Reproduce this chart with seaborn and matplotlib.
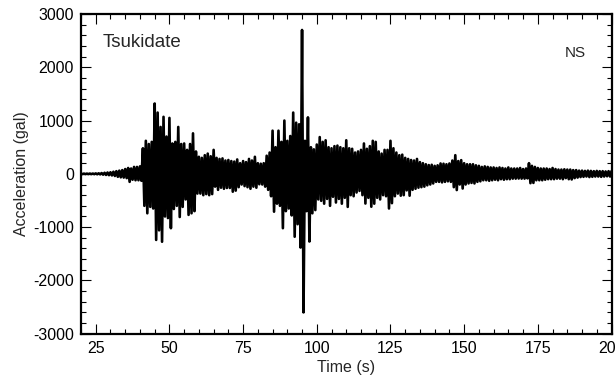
import numpy as np
import pandas as pd
import seaborn as sns
import matplotlib.pyplot as plt
from matplotlib.ticker import MultipleLocator

# peak accelerations (gal), one pair per second from t = 20 s to 200 s
t_start = 20
peak_pos = [5, 5, 5, 6, 6, 8, 10, 15, 20, 25,
            30, 40, 50, 60, 70, 90, 110, 100, 130, 130,
            140, 480, 620, 560, 600, 1320, 1150, 880, 1070, 700,
            1050, 570, 600, 880, 560, 570, 450, 560, 760, 420,
            320, 300, 350, 380, 330, 450, 300, 280, 290, 250,
            260, 240, 230, 270, 200, 240, 220, 280, 250, 320,
            200, 190, 200, 340, 400, 810, 500, 810, 600, 1000,
            620, 710, 1150, 960, 930, 2700, 620, 1060, 500, 460,
            550, 690, 600, 630, 500, 480, 520, 530, 500, 480,
            630, 480, 470, 400, 420, 450, 570, 470, 520, 620,
            600, 420, 380, 450, 450, 620, 480, 400, 350, 360,
            300, 280, 260, 250, 280, 220, 200, 180, 165, 170,
            150, 160, 195, 190, 180, 195, 250, 350, 240, 257,
            200, 180, 180, 180, 160, 150, 130, 140, 130, 120,
            120, 110, 120, 110, 100, 120, 100, 100, 100, 110,
            90, 100, 200, 150, 130, 110, 100, 100, 100, 90,
            110, 90, 80, 80, 85, 80, 80, 70, 70, 60,
            60, 55, 60, 55, 50, 55, 50, 50, 45, 50, 50]
peak_neg = [-5, -5, -5, -6, -6, -8, -10, -15, -20, -25,
            -30, -40, -55, -65, -70, -80, -150, -110, -120, -120,
            -130, -600, -740, -620, -650, -1240, -1060, -1274, -800, -830,
            -1020, -660, -600, -810, -620, -480, -770, -740, -700, -370,
            -370, -400, -380, -400, -380, -240, -300, -260, -280, -265,
            -265, -335, -315, -250, -200, -230, -250, -280, -240, -260,
            -195, -200, -240, -300, -420, -710, -560, -600, -1020, -700,
            -650, -780, -1180, -945, -1383, -2600, -700, -1270, -740, -680,
            -480, -506, -560, -470, -600, -430, -538, -470, -560, -450,
            -620, -400, -420, -350, -320, -400, -557, -450, -617, -560,
            -450, -480, -400, -420, -650, -550, -420, -370, -410, -400,
            -310, -410, -300, -280, -260, -250, -240, -215, -200, -180,
            -150, -150, -160, -150, -140, -150, -250, -304, -200, -275,
            -200, -180, -170, -180, -150, -140, -120, -120, -130, -120,
            -110, -120, -100, -110, -100, -100, -90, -90, -88, -90,
            -90, -85, -175, -170, -120, -120, -120, -110, -100, -100,
            -100, -90, -90, -100, -80, -100, -105, -80, -70, -60,
            -56, -50, -60, -55, -50, -50, -56, -50, -45, -50, -50]

station = "Tsukidate"
component = "NS"
x_ticks = [25, 50, 75, 100, 125, 150, 175, 200]
y_ticks = [-3000, -2000, -1000, 0, 1000, 2000, 3000]

# trace goes up to the positive peak, then down to the negative one, each second
secs = np.arange(t_start, t_start + len(peak_pos))
time = np.column_stack([secs, secs + 0.5]).ravel()
acc = np.column_stack([peak_pos, peak_neg]).ravel()
record = pd.DataFrame({"time": time, "acc": acc})

sns.set_style("ticks")
plt.rcParams['font.family'] = ['Liberation Sans', 'DejaVu Sans']
plt.rcParams['axes.unicode_minus'] = False

fig = plt.figure(figsize=(6.16, 3.81), dpi=100)
ax = fig.add_axes([0.1315, 0.1241, 0.8612, 0.8392])

sns.lineplot(data=record, x="time", y="acc", sort=False, estimator=None,
             color="black", linewidth=1.9, ax=ax)

ax.set_xlim(20, 200)
ax.set_ylim(-3000, 3000)
ax.set_xticks(x_ticks)
ax.set_yticks(y_ticks)
ax.xaxis.set_minor_locator(MultipleLocator(5))
ax.yaxis.set_minor_locator(MultipleLocator(200))
ax.tick_params(which='both', direction='in', top=True, right=True,
               width=0.8, colors='black', labelsize=11.5, pad=5)
ax.tick_params(which='major', length=7.5)
ax.tick_params(which='minor', length=3.6)
for s in ax.spines.values():
    s.set_linewidth(1.6)
    s.set_color('black')

ax.set_xlabel("Time (s)", fontsize=11.5, labelpad=3)
ax.set_ylabel("Acceleration (gal)", fontsize=11.5, labelpad=3)

ax.text(0.041, 0.898, station, transform=ax.transAxes, fontsize=13.5)
ax.text(0.952, 0.865, component, transform=ax.transAxes, fontsize=11, ha='right')

fig.savefig("out.png", dpi=100)
